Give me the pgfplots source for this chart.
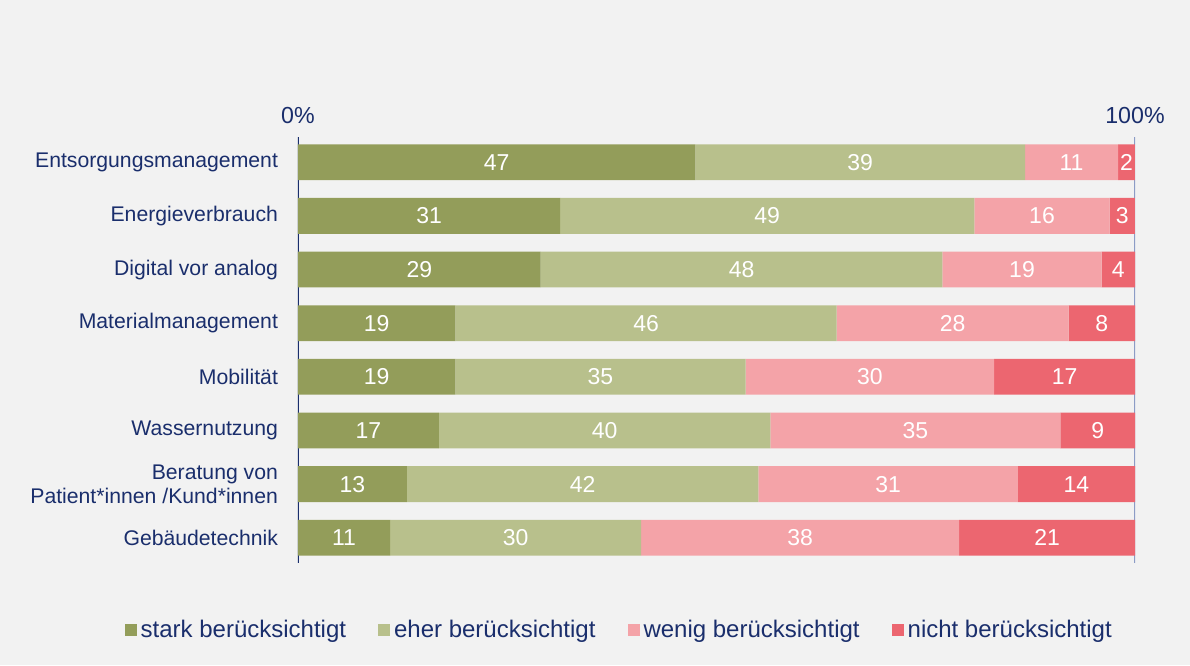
\documentclass[border=0pt]{standalone}
\usepackage{fontspec}
\setmainfont{Liberation Sans}
\usepackage{pgfplots}
\usepackage{pgfplotstable}
\pgfplotsset{compat=1.18}

\definecolor{bg}{HTML}{F2F2F2}
\definecolor{navy}{HTML}{1A2E6C}
\definecolor{stark}{HTML}{939D5A}
\definecolor{eher}{HTML}{B8C08C}
\definecolor{wenig}{HTML}{F4A3A8}
\definecolor{nicht}{HTML}{EC6670}
\definecolor{rline}{HTML}{8C9CC6}

% stark, eher, wenig, nicht (in %)
\pgfplotstableread{
y a b c d
0 47 39 11 2
1 31 49 16 3
2 29 48 19 4
3 19 46 28 8
4 19 35 30 17
5 17 40 35 9
6 13 42 31 14
7 11 30 38 21
}\data

\pgfplotsset{
    frame/.style={
        at={(149pt,51pt)}, anchor=south west,
        scale only axis, width=418.5pt, height=213pt,
        xmin=0, xmax=100, ymin=-0.47, ymax=7.47, y dir=reverse,
    },
    valuelabel/.style={draw=none, mark=none, point meta=explicit symbolic,
        nodes near coords={\pgfplotspointmeta},
        every node near coord/.append style={anchor=center, text=white,
            font=\fontsize{11.5}{13}\selectfont}},
}
\newcommand{\tot}{(\thisrow{a}+\thisrow{b}+\thisrow{c}+\thisrow{d})}

\begin{document}
\begin{tikzpicture}
\fill[bg] (0,0) rectangle (595pt,332.5pt);
\begin{axis}[
    frame,
    xbar stacked, bar width=17.9pt,
    axis line style={draw=none},
    major tick length=0pt,
    xtick={0,100}, xticklabels={0\%,100\%},
    xticklabel pos=upper,
    xticklabel style={font=\fontsize{11.6}{13}\selectfont, text=navy, yshift=3pt},
    ytick={0,...,7},
    yticklabels={Entsorgungsmanagement, Energieverbrauch, Digital vor analog,
        Materialmanagement, Mobilität, Wassernutzung,
        {Beratung von\\Patient*innen /Kund*innen}, Gebäudetechnik},
    yticklabel style={align=right, font=\fontsize{10.6}{12}\selectfont, text=navy, xshift=-6.5pt},
    legend columns=4,
    legend image code/.code={\path[#1] (0pt,-3pt) rectangle (6pt,3pt);},
    legend style={draw=none, fill=none, at={(0.385,0)}, anchor=center, yshift=-33.5pt,
        font=\fontsize{12}{14}\selectfont, text=navy,
        nodes={inner sep=2pt},
        /tikz/every odd column/.append style={column sep=0pt},
        /tikz/every even column/.append style={column sep=14pt}},
]
\addplot[fill=stark, draw=none] table[y=y, x expr=\thisrow{a}*100/\tot] {\data};
\addlegendentry{stark berücksichtigt}
\addplot[fill=eher, draw=none] table[y=y, x expr=\thisrow{b}*100/\tot] {\data};
\addlegendentry{eher berücksichtigt}
\addplot[fill=wenig, draw=none] table[y=y, x expr=\thisrow{c}*100/\tot] {\data};
\addlegendentry{wenig berücksichtigt}
\addplot[fill=nicht, draw=none] table[y=y, x expr=\thisrow{d}*100/\tot] {\data};
\addlegendentry{nicht berücksichtigt}
\draw[navy, line width=1pt] (rel axis cs:0,0) -- (rel axis cs:0,1);
\draw[rline, line width=0.6pt] (rel axis cs:1,0) -- (rel axis cs:1,1);
\end{axis}
% value labels, centred in each segment
\begin{axis}[frame, hide axis]
\addplot[valuelabel] table[y=y, meta=a,
    x expr=(0.5*\thisrow{a})*100/\tot] {\data};
\addplot[valuelabel] table[y=y, meta=b,
    x expr=(\thisrow{a}+0.5*\thisrow{b})*100/\tot] {\data};
\addplot[valuelabel] table[y=y, meta=c,
    x expr=(\thisrow{a}+\thisrow{b}+0.5*\thisrow{c})*100/\tot] {\data};
\addplot[valuelabel] table[y=y, meta=d,
    x expr=(\thisrow{a}+\thisrow{b}+\thisrow{c}+0.5*\thisrow{d})*100/\tot] {\data};
\end{axis}
\end{tikzpicture}
\end{document}
